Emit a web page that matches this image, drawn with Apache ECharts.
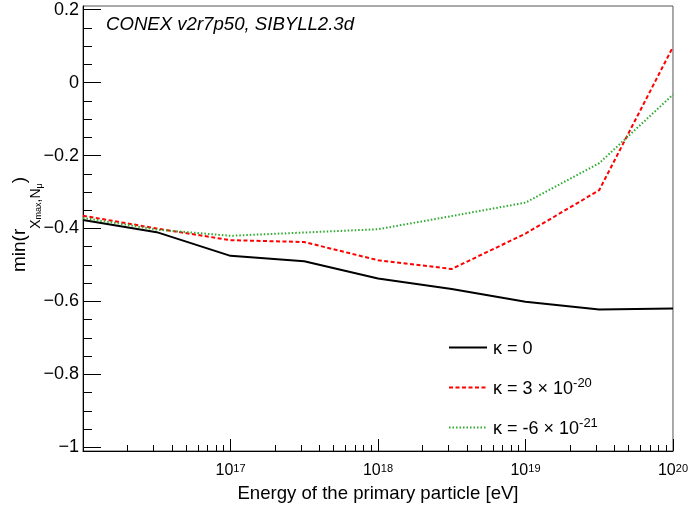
<!DOCTYPE html>
<html>
<head>
<meta charset="utf-8">
<script src="https://cdn.jsdelivr.net/npm/echarts@6/dist/echarts.min.js"></script>
<style>
html, body { margin: 0; padding: 0; background: #fff; }
#chart { width: 691px; height: 509px; }
</style>
</head>
<body>
<div id="chart"></div>
<script>
// energies in eV, half-decade steps
const energies = [1e16, 3.16e16, 1e17, 3.16e17, 1e18, 3.16e18, 1e19, 3.16e19, 1e20];
// min(r) per kappa
const kappa0 = [-0.377, -0.410, -0.475, -0.490, -0.537, -0.566, -0.601, -0.622, -0.619];
const kappaPos = [-0.365, -0.400, -0.432, -0.437, -0.487, -0.511, -0.414, -0.295, 0.098];
const kappaNeg = [-0.371, -0.403, -0.420, -0.411, -0.402, -0.366, -0.329, -0.221, -0.033];
const seriesNames = ['κ = 0', 'κ = 3 × 10^-20', 'κ = -6 × 10^-21'];

const xMajorTicks = [1e17, 1e18, 1e19, 1e20];
const xMinorTicks = [];
for (let d = 16; d < 20; d++) {
	for (let m = 2; m <= 9; m++) xMinorTicks.push(m * Math.pow(10, d));
}
const yMajorTicks = [-1, -0.8, -0.6, -0.4, -0.2, 0, 0.2];
const yMinorTicks = [-0.95, -0.9, -0.85, -0.75, -0.7, -0.65, -0.55, -0.5, -0.45,
	-0.35, -0.3, -0.25, -0.15, -0.1, -0.05, 0.05, 0.1, 0.15];

const font = 'Liberation Sans';
const yMin = -1.01, yMax = 0.21;

function pairs(vals) {
	return energies.map((e, i) => [e, vals[i]]);
}

// "a^b" -> rich text with superscript
function legendText(name) {
	const p = name.split('^');
	return p.length > 1 ? '{t|' + p[0] + '}{s|' + p[1] + '}' : '{t|' + name + '}';
}

const chart = echarts.init(document.getElementById('chart'));
const option = {
	animation: false,
	grid: {
		left: 83, right: 14, top: 6, bottom: 58,
		show: true, borderColor: '#555', borderWidth: 1
	},
	xAxis: [{
		type: 'log', logBase: 10, min: 1e16, max: 1e20, position: 'bottom',
		name: 'Energy of the primary particle [eV]',
		nameLocation: 'middle', nameGap: 30,
		nameTextStyle: { fontFamily: font, fontSize: 18.6, color: '#000' },
		axisLine: { onZero: false, lineStyle: { color: '#000', width: 1 } },
		axisTick: { inside: true, length: 12, customValues: xMajorTicks, lineStyle: { color: '#000' } },
		axisLabel: {
			customValues: xMajorTicks, margin: 12,
			formatter: v => '{b|10}{s|' + Math.round(Math.log10(v)) + '}',
			rich: {
				b: { fontFamily: font, fontSize: 16, color: '#000' },
				s: { fontFamily: font, fontSize: 11, verticalAlign: 'top', color: '#000' }
			}
		},
		splitLine: { show: false }
	}, {
		type: 'log', logBase: 10, min: 1e16, max: 1e20, position: 'bottom', offset: 0,
		axisLine: { show: false, onZero: false },
		axisTick: { inside: true, length: 6, customValues: xMinorTicks, lineStyle: { color: '#000' } },
		axisLabel: { show: false },
		splitLine: { show: false }
	}],
	yAxis: [{
		type: 'value', min: yMin, max: yMax, position: 'left',
		axisLine: { show: true, onZero: false, lineStyle: { color: '#000', width: 1 } },
		axisTick: { show: true, inside: true, length: 18, customValues: yMajorTicks, lineStyle: { color: '#000' } },
		axisLabel: {
			customValues: yMajorTicks, margin: 4,
			fontFamily: font, fontSize: 18, color: '#000',
			formatter: v => String(v).replace('-', '\u2212')
		},
		splitLine: { show: false }
	}, {
		type: 'value', min: yMin, max: yMax, position: 'left', offset: 0,
		axisLine: { show: false, onZero: false },
		axisTick: { show: true, inside: true, length: 9, customValues: yMinorTicks, lineStyle: { color: '#000' } },
		axisLabel: { show: false },
		splitLine: { show: false }
	}],
	legend: {
		orient: 'vertical', left: 448, top: 340, padding: 0,
		itemWidth: 38, itemHeight: 14, itemGap: 19,
		data: seriesNames,
		formatter: legendText,
		itemStyle: { opacity: 0 },
		textStyle: {
			rich: {
				t: { fontFamily: font, fontSize: 18, color: '#000', padding: [3, 0, 0, 1] },
				s: { fontFamily: font, fontSize: 13, color: '#000', verticalAlign: 'top' }
			}
		}
	},
	graphic: [{
		type: 'text', x: 106, y: 25,
		style: {
			text: 'CONEX v2r7p50, SIBYLL2.3d',
			font: 'italic 18.6px "Liberation Sans"', fill: '#000',
			align: 'left', verticalAlign: 'middle'
		}
	}, {
		type: 'text', x: 36, y: 272, rotation: Math.PI / 2,
		style: {
			text: '{m|min(r}{x|X}{y|max}{x|,N}{u|μ}{m|)}',
			align: 'left', verticalAlign: 'middle',
			rich: {
				m: { fontFamily: font, fontSize: 19, lineHeight: 19, padding: [0, 0, 16, 0], verticalAlign: 'bottom', fill: '#000' },
				x: { fontFamily: font, fontSize: 14, lineHeight: 14, padding: [0, 0, 2, 0], verticalAlign: 'bottom', fill: '#000' },
				y: { fontFamily: font, fontSize: 9, lineHeight: 9, padding: [0, 0, 2, 0], verticalAlign: 'bottom', fill: '#000' },
				u: { fontFamily: font, fontSize: 9, lineHeight: 9, padding: [0, 0, 1, 0], verticalAlign: 'bottom', fill: '#000' }
			}
		}
	}],
	series: [{
		name: seriesNames[0], type: 'line', data: pairs(kappa0),
		symbol: 'none', color: '#000',
		lineStyle: { color: '#000', width: 2 }
	}, {
		name: seriesNames[1], type: 'line', data: pairs(kappaPos),
		symbol: 'none', color: '#ff0000',
		lineStyle: { color: '#ff0000', width: 2, type: [4, 2.5] }
	}, {
		name: seriesNames[2], type: 'line', data: pairs(kappaNeg),
		symbol: 'none', color: '#2eaa2e',
		lineStyle: { color: '#2eaa2e', width: 2, type: [1.5, 2] }
	}]
};
chart.setOption(option);
</script>
</body>
</html>
